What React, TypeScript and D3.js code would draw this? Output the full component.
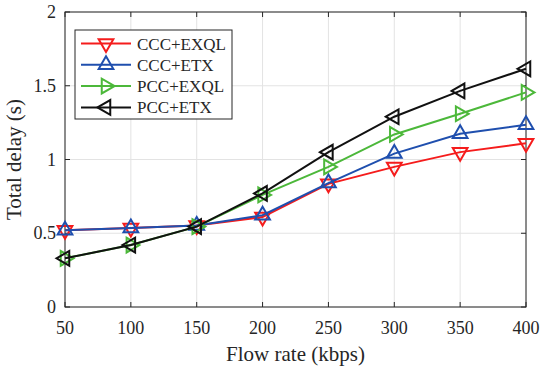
import React from "react";
import * as d3 from "d3";

const flowRates = [50, 100, 150, 200, 250, 300, 350, 400];
const cccExql = [0.52, 0.535, 0.552, 0.61, 0.835, 0.95, 1.05, 1.11];
const cccEtx = [0.52, 0.535, 0.552, 0.622, 0.84, 1.04, 1.175, 1.235];
const pccExql = [0.33, 0.42, 0.545, 0.76, 0.95, 1.17, 1.31, 1.455];
const pccEtx = [0.33, 0.42, 0.545, 0.77, 1.05, 1.29, 1.465, 1.615];
const yTicks = [0, 0.5, 1, 1.5, 2];
const seriesNames = ["CCC+EXQL", "CCC+ETX", "PCC+EXQL", "PCC+ETX"];

const colors = ["#f51c1c", "#1f4fae", "#4cb83a", "#111111"];
const markers = ["down", "up", "right", "left"];
const allSeries = [cccExql, cccEtx, pccExql, pccEtx];

const W = 550;
const H = 371;
const left = 65;
const right = 526;
const top = 12;
const bottom = 307;
const font = "'Liberation Serif', 'Times New Roman', serif";

function trianglePath(dir: string, cx: number, cy: number, r: number) {
  const pts: [number, number][] = [];
  const base = { up: -90, down: 90, right: 0, left: 180 }[dir] as number;
  for (let i = 0; i < 3; i++) {
    const a = ((base + i * 120) * Math.PI) / 180;
    pts.push([cx + r * Math.cos(a), cy + r * Math.sin(a)]);
  }
  return "M" + pts.map((p) => p.join(",")).join("L") + "Z";
}

export default function App() {
  const x = d3.scaleLinear().domain([50, 400]).range([left, right]);
  const y = d3.scaleLinear().domain([0, 2]).range([bottom, top]);
  const line = d3
    .line<number>()
    .x((d, i) => x(flowRates[i]))
    .y((d) => y(d));

  const axisColor = "#262626";
  const gridColor = "#e3e3e3";

  return (
    <svg width={W} height={H} style={{ position: "absolute", left: 0, top: 0 }}>
      <rect x={0} y={0} width={W} height={H} fill="#fff" />
      {/* grid */}
      {flowRates.map((v) => (
        <line key={"gx" + v} x1={x(v)} x2={x(v)} y1={top} y2={bottom} stroke={gridColor} strokeWidth={1} />
      ))}
      {yTicks.map((v) => (
        <line key={"gy" + v} x1={left} x2={right} y1={y(v)} y2={y(v)} stroke={gridColor} strokeWidth={1} />
      ))}
      {/* ticks */}
      {flowRates.map((v) => (
        <g key={"tx" + v}>
          <line x1={x(v)} x2={x(v)} y1={bottom} y2={bottom - 5} stroke={axisColor} />
          <line x1={x(v)} x2={x(v)} y1={top} y2={top + 5} stroke={axisColor} />
          <text x={x(v)} y={bottom + 27} textAnchor="middle" fontFamily={font} fontSize={18} fill={axisColor}>
            {v}
          </text>
        </g>
      ))}
      {yTicks.map((v) => (
        <g key={"ty" + v}>
          <line x1={left} x2={left + 5} y1={y(v)} y2={y(v)} stroke={axisColor} />
          <line x1={right} x2={right - 5} y1={y(v)} y2={y(v)} stroke={axisColor} />
          <text x={left - 9} y={y(v) + 6} textAnchor="end" fontFamily={font} fontSize={18} fill={axisColor}>
            {v}
          </text>
        </g>
      ))}
      <rect x={left} y={top} width={right - left} height={bottom - top} fill="none" stroke={axisColor} strokeWidth={1} />
      {/* series */}
      {allSeries.map((s, k) => (
        <g key={"s" + k}>
          <path d={line(s) || ""} fill="none" stroke={colors[k]} strokeWidth={2} />
          {s.map((v, i) => (
            <path
              key={i}
              d={trianglePath(markers[k], x(flowRates[i]), y(v), 8.5)}
              fill="none"
              stroke={colors[k]}
              strokeWidth={2}
            />
          ))}
        </g>
      ))}
      {/* labels */}
      <text x={(left + right) / 2} y={361} textAnchor="middle" fontFamily={font} fontSize={21} fill={axisColor}>
        Flow rate (kbps)
      </text>
      <text
        transform={`translate(21,${(top + bottom) / 2}) rotate(-90)`}
        textAnchor="middle"
        fontFamily={font}
        fontSize={21}
        fill={axisColor}
      >
        Total delay (s)
      </text>
      {/* legend */}
      <rect x={75} y={30} width={157} height={89} fill="#fff" stroke={axisColor} strokeWidth={1} />
      {seriesNames.map((n, k) => {
        const ly = 43.5 + k * 21.3;
        return (
          <g key={"l" + k}>
            <line x1={81} x2={131} y1={ly} y2={ly} stroke={colors[k]} strokeWidth={2} />
            <path d={trianglePath(markers[k], 106, ly, 8.5)} fill="none" stroke={colors[k]} strokeWidth={2} />
            <text x={137} y={ly + 6} fontFamily={font} fontSize={17} fill={axisColor}>
              {n}
            </text>
          </g>
        );
      })}
    </svg>
  );
}
